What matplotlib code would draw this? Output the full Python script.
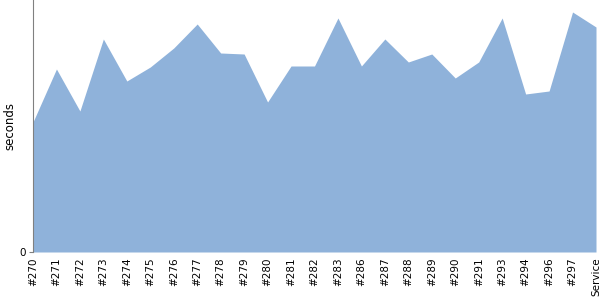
import matplotlib
matplotlib.use("Agg")
import matplotlib.pyplot as plt
import numpy as np

# build labels and durations
builds = ['#270', '#271', '#272', '#273', '#274', '#275', '#276', '#277', '#278',
          '#279', '#280', '#281', '#282', '#283', '#286', '#287', '#288', '#289',
          '#290', '#291', '#293', '#294', '#296', '#297', 'Service']
seconds = [130, 183, 141, 213, 171, 185, 204, 228, 199, 198, 150, 186, 186,
           234, 186, 213, 190, 198, 174, 190, 234, 158, 161, 240, 225]

fig = plt.figure(figsize=(6, 3), dpi=100)
ax = fig.add_axes([33 / 600, 48 / 300, 563 / 600, 252 / 300])

x = np.arange(len(builds))
ax.fill_between(x, seconds, 0, color='#8fb2da', linewidth=0)

ax.set_xlim(0, len(builds) - 1)
ax.set_ylim(0, 252)
ax.set_xticks(x)
ax.set_xticklabels(builds, rotation=90, fontsize=7.5)
ax.set_yticks([0])
ax.set_yticklabels(['0'], fontsize=7.5)
ax.set_ylabel('seconds', fontsize=8.5)
ax.yaxis.set_label_coords(-0.029, 0.5)

ax.tick_params(axis='x', length=0, pad=4)
ax.tick_params(axis='y', length=3, color='#808080', pad=2)
for s in ['top', 'right', 'bottom']:
    ax.spines[s].set_visible(False)
ax.spines['left'].set_color('#808080')

fig.savefig('out.png', dpi=100)
